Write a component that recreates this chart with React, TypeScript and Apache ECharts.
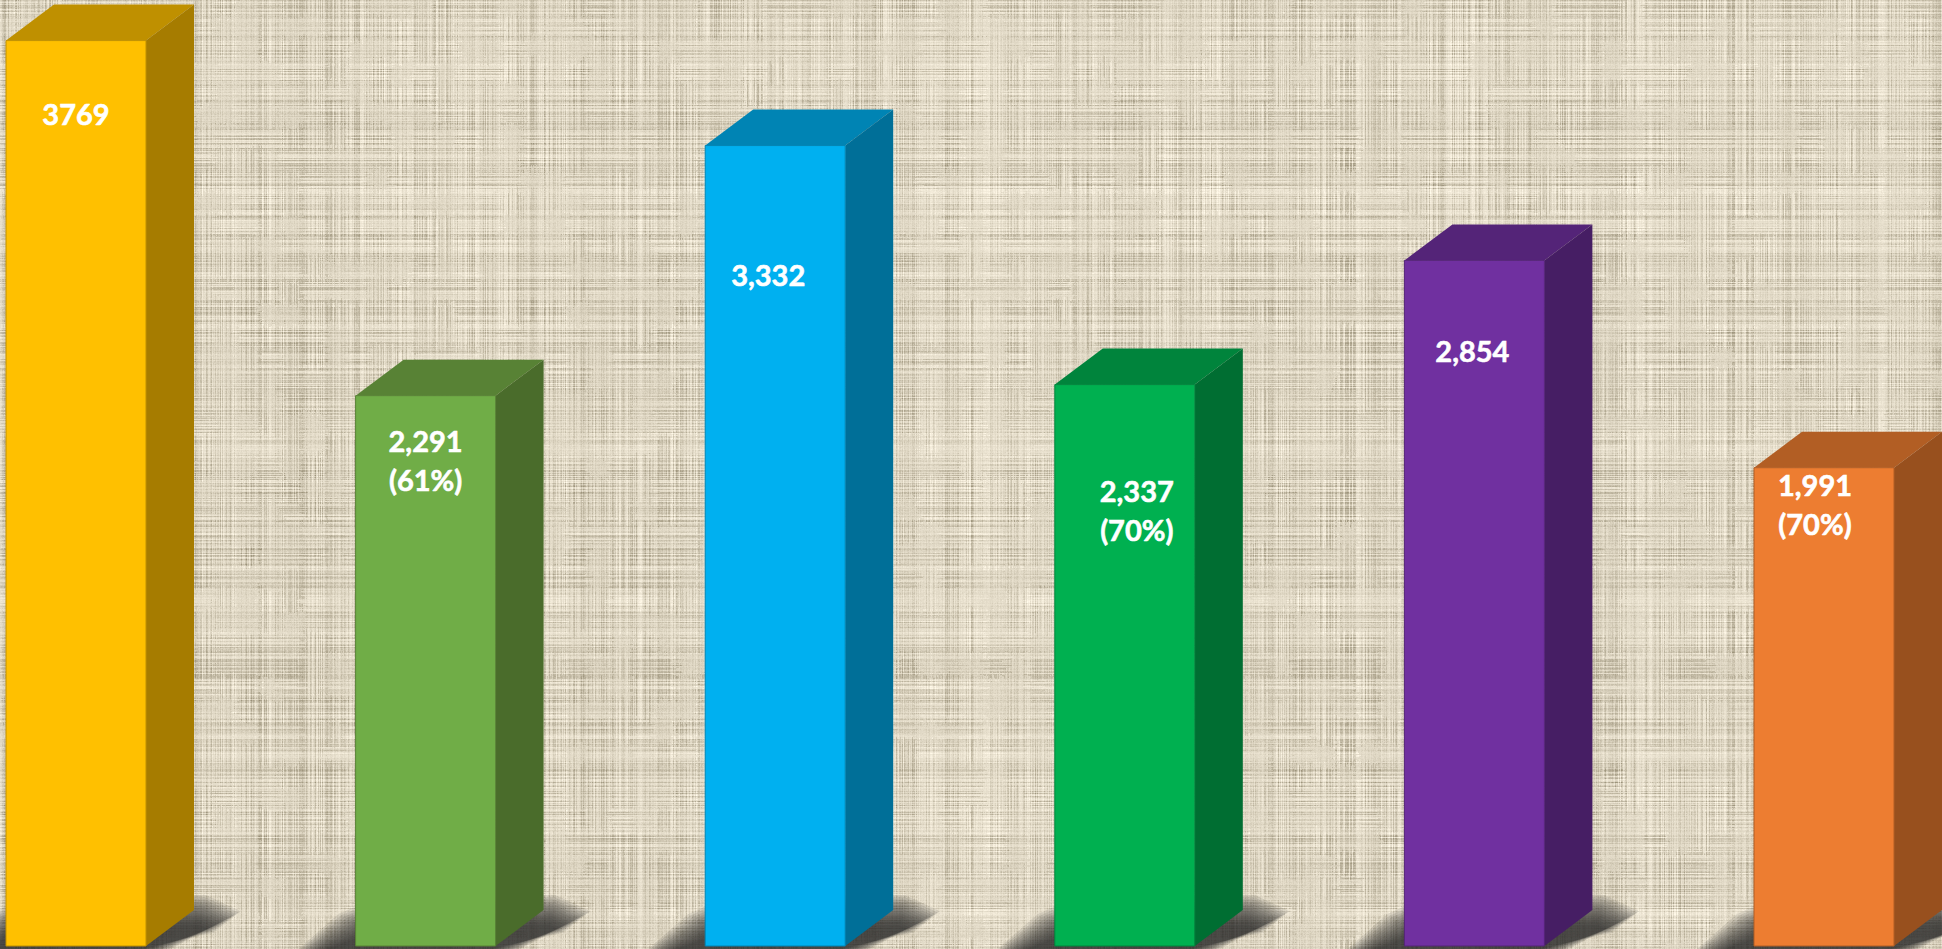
import React, { useEffect, useRef, useState } from "react";
import * as echarts from "echarts";

const categories = ["1", "2", "3", "4", "5", "6"];
const values = [3769, 2291, 3332, 2337, 2854, 1991];
const valueLabels = ["3769", "2,291", "3,332", "2,337", "2,854", "1,991"];
const shareLabels = ["", "(61%)", "", "(70%)", "", "(70%)"];

const frontColors = ["#FFC000", "#70AD47", "#00B0F0", "#00B050", "#7030A0", "#ED7D31"];
const topColors = ["#BF9000", "#588235", "#0084B4", "#00843C", "#542478", "#B25E24"];
const sideColors = ["#A67C00", "#4A6C2B", "#006F98", "#006E32", "#461E64", "#98501E"];

const labelNudgeX = [0, 0, -7, 12, -2, -9];
const labelNudgeY = [73, 45, 129, 106, 90, 17];

const W = 1942;
const H = 949;
const HALF = 70;
const DX = 48;
const DY = 36;
const FONT = '700 29px Lato, "Open Sans", sans-serif';

function makeLinen(): string {
  const c = document.createElement("canvas");
  c.width = W;
  c.height = H;
  const g = c.getContext("2d")!;
  let s = 0x2f6e2b1;
  const rnd = () => {
    s = (s + 0x6d2b79f5) | 0;
    let t = Math.imul(s ^ (s >>> 15), 1 | s);
    t = (t + Math.imul(t ^ (t >>> 7), 61 | t)) ^ t;
    return ((t ^ (t >>> 14)) >>> 0) / 4294967296;
  };
  const rows = Array.from({ length: H }, () => rnd() * 2 - 1);
  const cols = Array.from({ length: W }, () => rnd() * 2 - 1);
  const CELL = 22;
  const gw = Math.ceil(W / CELL) + 4;
  const gh = Math.ceil(H / CELL) + 4;
  const wr = Array.from({ length: gw * gh }, () => 0.25 + rnd() * 0.9);
  const wc = Array.from({ length: gw * gh }, () => 0.25 + rnd() * 0.9);
  const shiftX = rows.map(() => Math.floor(rnd() * 12));
  const shiftY = cols.map(() => Math.floor(rnd() * 12));
  const img = g.createImageData(W, H);
  const px = img.data;
  for (let y = 0; y < H; y++) {
    for (let x = 0; x < W; x++) {
      const cx = Math.floor((x + shiftX[y]) / CELL);
      const cy = Math.floor((y + shiftY[x]) / CELL);
      const k = cy * gw + cx;
      const v = rows[y] * wr[k] + cols[x] * wc[k] + (rnd() - 0.5) * 0.5;
      const d = v < 0 ? v * 30 : v * 17;
      const o = (y * W + x) * 4;
      px[o] = 223 + d;
      px[o + 1] = 215 + d * 1.02;
      px[o + 2] = 196 + d * 1.1;
      px[o + 3] = 255;
    }
  }
  g.putImageData(img, 0, 0);
  const out = document.createElement("canvas");
  out.width = W;
  out.height = H;
  const o2 = out.getContext("2d")!;
  o2.filter = "blur(0.45px)";
  o2.drawImage(c, 0, 0);
  return out.toDataURL("image/png");
}

export default function App() {
  const ref = useRef<HTMLDivElement>(null);
  const [bg, setBg] = useState("");

  useEffect(() => {
    document.body.style.margin = "0";
    document.body.style.overflow = "hidden";
    setBg(makeLinen());
    const chart = echarts.init(ref.current!, undefined, { renderer: "svg" });

    const data = values.map((v, i) => [i, v]);

    const renderShadow = (_p: any, api: any) => {
      const base = api.coord([api.value(0), 0]);
      const x0 = base[0] - HALF;
      const yb = base[1] + 3;
      const yt = base[1] - 36;
      const layers = 14;
      const blur = 15;
      const children: any[] = [];
      for (let k = 0; k < layers; k++) {
        const d = -blur + (2 * blur * k) / (layers - 1);
        const r = 12 + Math.max(0, blur - d) * 0.5;
        children.push({
          type: "polygon",
          shape: {
            points: [
              [x0 - 42 + d, yb],
              [x0 - 2 + d, yt + d + r * 0.7],
              [x0 + 14 + d + r, yt + d],
              [x0 + 228 - d - r * 1.6, yt + d],
              [x0 + 228 - d - r * 0.3, yt + d + r * 0.6],
              [x0 + 150 - d, yb],
            ],
          },
          style: { fill: "rgba(48,44,40,0.115)" },
        });
      }
      return { type: "group", children };
    };

    const renderBar = (_p: any, api: any) => {
      const i = api.value(0);
      const top = api.coord([i, api.value(1)]);
      const base = api.coord([i, 0]);
      const l = top[0] - HALF;
      const r = top[0] + HALF;
      const t = top[1];
      const b = base[1];
      const tx = top[0] + labelNudgeX[i];
      const ty = t + labelNudgeY[i];
      const labelStyle = {
        x: tx, fill: "#FFFFFF", font: FONT, stroke: "#FFFFFF", lineWidth: 0.6,
        textAlign: "center", textVerticalAlign: "middle",
      };
      const children: any[] = [
        {
          type: "polygon",
          shape: { points: [[l, t], [l + DX, t - DY], [r + DX, t - DY], [r, t]] },
          style: { fill: topColors[i] },
        },
        {
          type: "polygon",
          shape: { points: [[r, t], [r + DX, t - DY], [r + DX, b - DY], [r, b]] },
          style: { fill: sideColors[i] },
        },
        {
          type: "rect",
          shape: { x: l, y: t, width: r - l, height: b - t },
          style: { fill: frontColors[i], stroke: topColors[i], lineWidth: 1 },
        },
        { type: "text", style: { ...labelStyle, text: valueLabels[i], y: ty } },
      ];
      if (shareLabels[i]) {
        children.push({ type: "text", style: { ...labelStyle, text: shareLabels[i], y: ty + 39 } });
      }
      return { type: "group", children };
    };

    chart.setOption({
      animation: false,
      grid: { left: 76, right: 118, top: 40.6, bottom: 3 },
      xAxis: { type: "category", data: categories, boundaryGap: false, show: false },
      yAxis: { type: "value", min: 0, max: 3769, show: false },
      series: [
        { type: "custom", silent: true, clip: false, data, encode: { x: 0, y: 1 }, renderItem: renderShadow },
        { type: "custom", silent: true, clip: false, data, encode: { x: 0, y: 1 }, renderItem: renderBar },
      ],
    });
    return () => chart.dispose();
  }, []);

  return (
    <div
      style={{
        width: W,
        height: H,
        backgroundColor: "#DFD7C4",
        backgroundImage: bg ? `url(${bg})` : undefined,
      }}
    >
      <div ref={ref} style={{ width: W, height: H }} />
    </div>
  );
}
